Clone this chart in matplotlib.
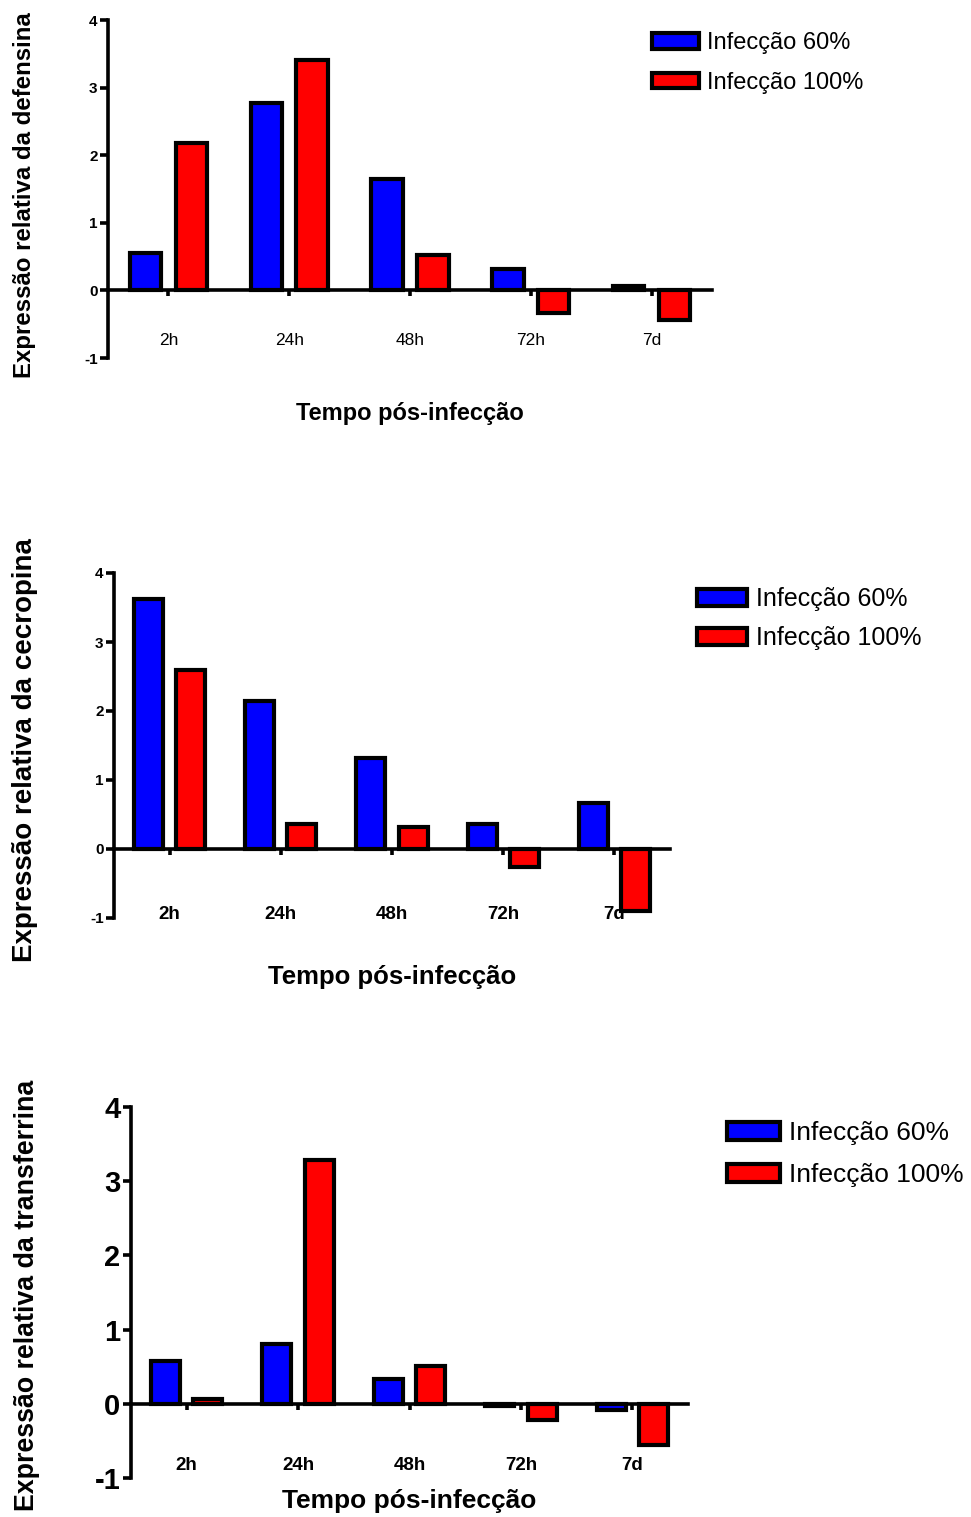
import matplotlib
matplotlib.use("Agg")
import matplotlib.pyplot as plt
import numpy as np

plt.rcParams['font.family'] = ['Liberation Sans', 'DejaVu Sans']
plt.rcParams['axes.unicode_minus'] = False

times = ['2h', '24h', '48h', '72h', '7d']
labels = ['Infecção 60%', 'Infecção 100%']
colors = ['#0000ff', '#ff0000']

defensina_60 = [0.56, 2.77, 1.65, 0.31, 0.07]
defensina_100 = [2.18, 3.41, 0.53, -0.34, -0.44]
cecropina_60 = [3.62, 2.14, 1.32, 0.36, 0.67]
cecropina_100 = [2.59, 0.36, 0.32, -0.26, -0.90]
transferrina_60 = [0.58, 0.80, 0.33, -0.03, -0.08]
transferrina_100 = [0.07, 3.29, 0.51, -0.22, -0.55]

W, H = 971, 1517
fig = plt.figure(figsize=(W / 100, H / 100), dpi=100)


def px_axes(left, right, top, bottom):
    return fig.add_axes([left / W, 1 - bottom / H, (right - left) / W, (bottom - top) / H])


def panel(box, v60, v100, ylabel, ytick_fs, xtick_fs, xtick_bold, xpad,
          ylab_fs, xlab_fs, xlab_y, ylab_xy, leg_xy, leg_fs, leg_sp):
    ax = px_axes(*box)
    x = np.arange(len(times))
    off, w = 0.19, 0.26
    for vals, c, lab, sgn in [(v60, colors[0], labels[0], -1), (v100, colors[1], labels[1], 1)]:
        ax.bar(x + sgn * off, vals, w, color=c, edgecolor='black', linewidth=3.0, label=lab, zorder=3)
    for s in ['top', 'right']:
        ax.spines[s].set_visible(False)
    ax.spines['bottom'].set_position(('data', 0))
    ax.spines['bottom'].set_linewidth(2.6)
    ax.spines['bottom'].set_zorder(4)
    ax.spines['left'].set_linewidth(2.6)
    ax.set_xlim(-0.5, 4.5)
    ax.set_ylim(-1, 4)
    ax.set_yticks([-1, 0, 1, 2, 3, 4])
    ax.set_xticks(x)
    ax.set_xticklabels(times, fontsize=xtick_fs, fontweight='bold' if xtick_bold else 'normal')
    ax.set_yticklabels(['-1', '0', '1', '2', '3', '4'], fontsize=ytick_fs, fontweight='bold')
    ax.tick_params(axis='y', length=6, width=2.6, pad=1.5)
    ax.tick_params(axis='x', length=4, width=2.6, pad=xpad, direction='out')
    ax.set_xlabel('Tempo pós-infecção', fontsize=xlab_fs, fontweight='bold')
    ax.xaxis.set_label_coords(0.5, xlab_y)
    ax.set_ylabel(ylabel, fontsize=ylab_fs, fontweight='bold')
    ax.yaxis.set_label_coords(*ylab_xy)
    ax.legend(loc='upper left', bbox_to_anchor=(leg_xy[0] / W, 1 - leg_xy[1] / H),
              bbox_transform=fig.transFigure, frameon=False, fontsize=leg_fs,
              handlelength=2.0, handleheight=0.65, handletextpad=0.35, labelspacing=leg_sp,
              borderpad=0, borderaxespad=0)
    return ax


panel((108, 712, 20, 358), defensina_60, defensina_100, 'Expressão relativa da defensina',
      11, 12.5, False, 27, 17.3, 17, -0.13, (-0.12, 0.482), (652, 32), 17, 0.75)
panel((114, 670, 573, 918), cecropina_60, cecropina_100, 'Expressão relativa da cecropina',
      11, 13.5, True, 37, 20, 18.5, -0.135, (-0.137, 0.487), (697, 587), 18, 0.62)
panel((131, 688, 1107, 1478), transferrina_60, transferrina_100, 'Expressão relativa da transferrina',
      21, 13.5, True, 34, 19.3, 19, -0.03, (-0.163, 0.493), (727, 1121), 19, 0.69)

fig.savefig('out.png', dpi=100)
